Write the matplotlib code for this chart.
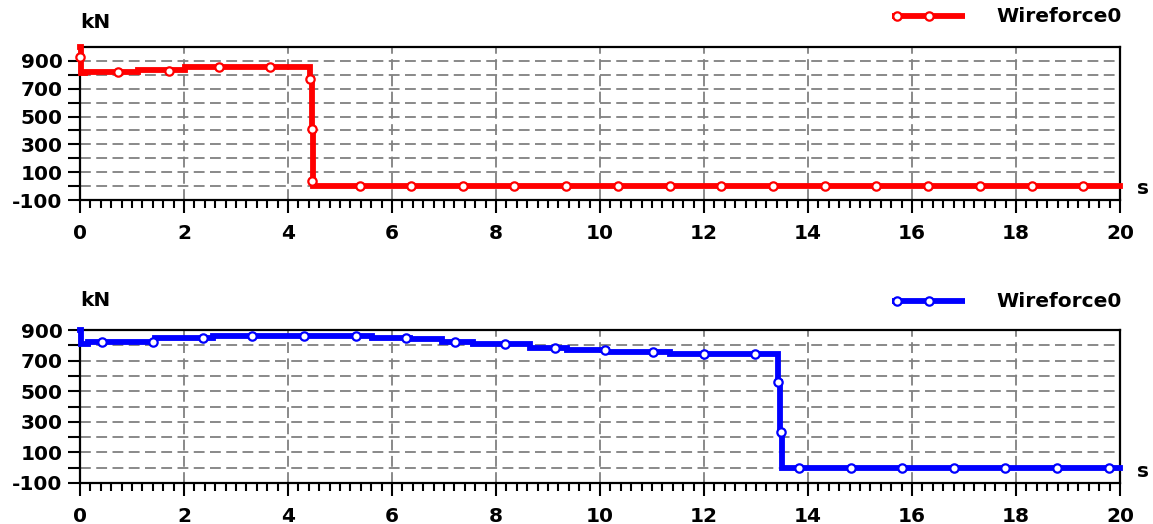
import numpy as np
import matplotlib
matplotlib.use("Agg")
import matplotlib.pyplot as plt
from matplotlib.ticker import MultipleLocator, FixedLocator

plt.rcParams["axes.unicode_minus"] = False

# --- data (time in s, force in kN) ---
red_t = [0.0, 0.02, 0.1, 1.12, 2.02, 4.42, 4.46, 4.48, 20.0]
red_v = [1000, 813, 823, 835, 859, 770, 411, 0, 0]
red_mark_t = [0.0, 0.73, 1.71, 2.67, 3.65, 4.42, 4.46, 4.47, 5.38, 6.37, 7.37, 8.35,
              9.35, 10.35, 11.35, 12.33, 13.33, 14.33, 15.31, 16.31, 17.31, 18.31, 19.29]
red_mark_v = [930, 823, 830, 859, 859, 770, 411, 37, 0, 0, 0, 0,
              0, 0, 0, 0, 0, 0, 0, 0, 0, 0, 0]

blue_t = [0.0, 0.02, 0.15, 1.45, 2.56, 5.62, 6.35, 6.96, 7.56, 8.65, 9.36, 10.13,
          11.35, 13.42, 13.46, 13.5, 20.0]
blue_v = [900, 810, 822, 846, 861, 846, 839, 822, 806, 784, 771, 756,
          743, 560, 233, 0, 0]
blue_mark_t = [0.42, 1.40, 2.37, 3.31, 4.31, 5.31, 6.27, 7.21, 8.17, 9.13, 10.10, 11.02,
               12.0, 12.98, 13.42, 13.48, 13.83, 14.83, 15.81, 16.81, 17.79, 18.79, 19.79]
blue_mark_v = [820, 822, 846, 861, 861, 861, 846, 822, 806, 784, 771, 756,
               743, 743, 560, 233, 0, 0, 0, 0, 0, 0, 0]

series_name = "Wireforce0"
y_unit = "kN"
x_unit = "s"

W, H = 1153, 524
fig = plt.figure(figsize=(W / 100, H / 100), dpi=100)

def box(l, t, r, b):
    return [l / W, 1 - b / H, (r - l) / W, (b - t) / H]

ax1 = fig.add_axes(box(80, 47, 1120, 200))
ax2 = fig.add_axes(box(80, 330, 1120, 483))

fs = 14.5
font = dict(fontsize=fs, fontweight="bold", family="DejaVu Sans")

def setup(ax, ytop, color, t, v, mt, mv, kn_y, leg_y):
    ax.plot(t, v, drawstyle="steps-post", color=color, lw=4.2, solid_joinstyle="miter",
            zorder=3, clip_on=False)
    ax.plot(mt, mv, ls="none", marker="o", ms=6, mfc="white", mec=color, mew=1.6,
            zorder=4, clip_on=False)
    ax.set_xlim(0, 20)
    ax.set_ylim(-100, ytop)
    ax.xaxis.set_major_locator(MultipleLocator(2))
    ax.xaxis.set_minor_locator(MultipleLocator(0.2))
    ax.yaxis.set_major_locator(FixedLocator([-100, 100, 300, 500, 700, 900]))
    ax.yaxis.set_minor_locator(FixedLocator([0, 200, 400, 600, 800]))
    ax.tick_params(axis="x", which="major", direction="out", length=9.5, width=1.5, pad=8)
    ax.tick_params(axis="x", which="minor", direction="out", length=5.5, width=1.5)
    ax.tick_params(axis="y", which="both", direction="out", length=8.6, width=1.5, pad=4)
    for lab in ax.get_xticklabels() + ax.get_yticklabels():
        lab.set_fontweight("bold")
        lab.set_fontsize(fs)
    for sp in ax.spines.values():
        sp.set_linewidth(1.6)
        sp.set_color("black")
    # dashed grid
    for gx in range(2, 20, 2):
        ax.axvline(gx, color="#808080", lw=1.3, dashes=(6, 3), zorder=1)
    for gy in range(0, 1000, 100):
        ax.axhline(gy, color="#808080", lw=1.3, dashes=(6, 3), zorder=1)
    # unit labels
    ax.text(0.0, kn_y, y_unit, transform=ax.transAxes, ha="left", va="center", **font)
    ax.text(1.016, 0.078, x_unit, transform=ax.transAxes, ha="left", va="center", **font)
    # legend drawn by hand
    ax.plot([0.781, 0.851], [leg_y, leg_y], transform=ax.transAxes, color=color, lw=4.2,
            clip_on=False, solid_capstyle="butt")
    ax.plot([0.786, 0.816], [leg_y, leg_y], transform=ax.transAxes, ls="none", marker="o",
            ms=6, mfc="white", mec=color, mew=1.6, clip_on=False)
    ax.text(0.881, leg_y - 0.005, series_name, transform=ax.transAxes, ha="left",
            va="center", **font)

setup(ax1, 1000, "#ff0000", red_t, red_v, red_mark_t, red_mark_v, 1.163, 1.203)
setup(ax2, 900, "#0000ff", blue_t, blue_v, blue_mark_t, blue_mark_v, 1.196, 1.19)

fig.savefig("out.png", dpi=100)
